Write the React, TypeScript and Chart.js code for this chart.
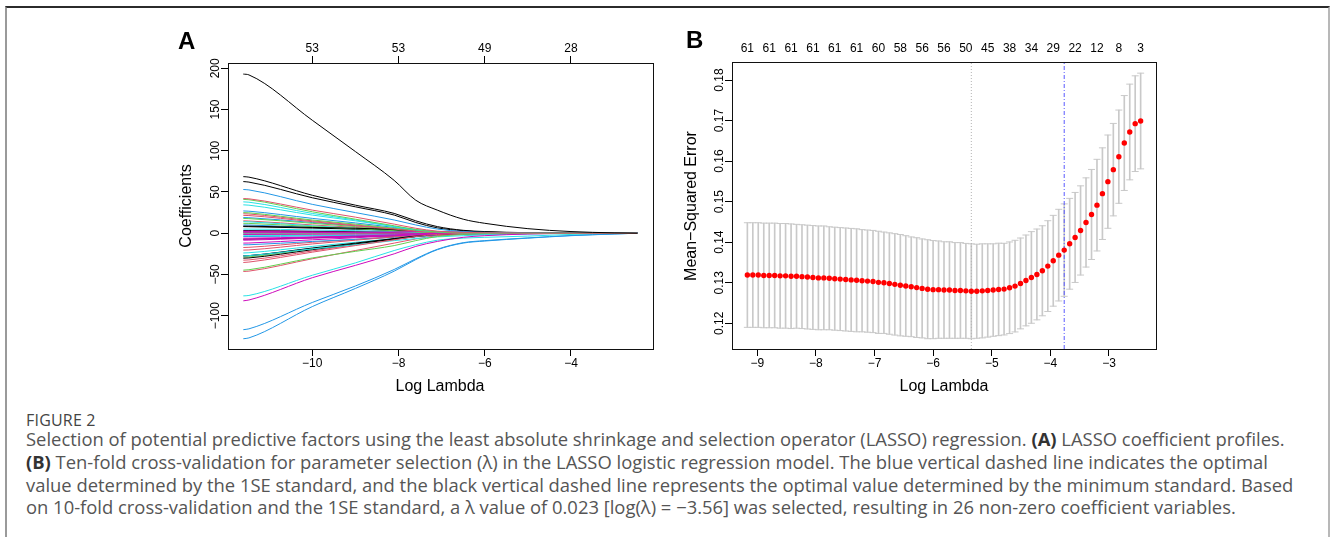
import React, { useEffect, useRef } from 'react';
import { Chart, registerables } from 'chart.js';

Chart.register(...registerables);

// ---------------- Panel A: LASSO coefficient profiles ----------------
const knotsA = [-11.6, -11.47, -10, -9, -8.1, -7.6, -7.1, -6.5, -6, -5, -4, -3, -2.46];

const coefPaths: number[][] = [
  // group 1
  [193, 192, 137, 99, 64, 40, 28, 17, 12, 5.5, 2, 0.4, 0],
  [42, 41.7, 28, 19.5, 11, 6, 2.5, 1, 0.5, 0.1, 0, 0, 0],
  [41, 40.6, 26, 17, 9, 4.5, 1.5, 0.4, 0, 0, 0, 0, 0],
  [53, 52.5, 35, 25, 16, 10, 5, 2, 1, 0.3, 0, 0, 0],
  [38, 37.6, 24, 16, 8, 4, 1.5, 0.5, 0.2, 0, 0, 0, 0],
  [-82, -81, -54, -39, -25, -16, -10, -5, -3, -1, -0.2, 0, 0],
  // group 2
  [68.6, 68, 46, 34, 24, 15, 8, 3.5, 2, 0.6, 0.1, 0, 0],
  [-35.5, -35, -23, -15, -8, -4, -1.5, -0.5, 0, 0, 0, 0, 0],
  [-44.8, -44.3, -30, -22, -15, -9, -4, -1.5, -0.5, 0, 0, 0, 0],
  [-128, -127, -89, -67, -46, -32, -20, -12, -9.5, -6, -3, -1, 0],
  [-76, -75.5, -51, -36, -21, -14, -8.5, -6, -5, -3.5, -1.5, -0.3, 0],
  [-7.3, -7.2, -5, -3.5, -2, -1, -0.3, 0, 0, 0, 0, 0, 0],
  // group 3
  [62.6, 62, 43, 32, 22, 13, 6.5, 3, 1.5, 0.4, 0, 0, 0],
  [21.6, 21.4, 14, 9, 5, 2.5, 1, 0.3, 0, 0, 0, 0, 0],
  [25, 24.7, 16, 11, 6, 3, 1, 0.3, 0, 0, 0, 0, 0],
  [-117, -116, -84, -64, -44, -31, -19.5, -11.5, -9, -5.7, -2.8, -0.9, 0],
  [34.4, 34, 22, 15, 8, 4.5, 2, 0.8, 0.4, 0.1, 0, 0, 0],
  [0.5, 0.5, 0.8, 1, 1.5, 2, 1.8, 1.2, 0.8, 0.3, 0, 0, 0],
  // group 4
  [8.6, 8.5, 7, 6, 4.5, 3, 1.5, 0.5, 0.2, 0, 0, 0, 0],
  [23.6, 23.3, 15, 10, 5.5, 3, 1.2, 0.4, 0, 0, 0, 0, 0],
  [17.9, 17.7, 12, 8, 4.5, 2.5, 1, 0.3, 0, 0, 0, 0, 0],
  [27, 26.7, 18, 12.5, 7, 4, 1.8, 0.6, 0.2, 0, 0, 0, 0],
  [-27.5, -27.2, -19, -14, -9, -6.5, -4.5, -3, -2, -0.8, -0.2, 0, 0],
  [-8.5, -8.4, -6, -4.5, -3, -2, -1.2, -0.6, -0.3, 0, 0, 0, 0],
  // group 5
  [-27.5, -27.2, -18, -12, -6.5, -3.5, -1.5, -0.5, 0, 0, 0, 0, 0],
  [-46.4, -46, -31, -21, -12, -7, -3, -1, -0.3, 0, 0, 0, 0],
  [12, 11.9, 8, 5.5, 3, 1.5, 0.5, 0, 0, 0, 0, 0, 0],
  [19, 18.8, 13, 9, 5, 3, 1.5, 0.5, 0.2, 0, 0, 0, 0],
  [5, 5, 4, 3, 2, 1.2, 0.5, 0.2, 0, 0, 0, 0, 0],
  [-1.5, -1.5, -1.2, -1, -0.8, -0.5, -0.2, 0, 0, 0, 0, 0, 0],
  // group 6
  [8, 7.9, 6.2, 5, 3.5, 2.2, 1.2, 0.5, 0.2, 0, 0, 0, 0],
  [-20.5, -20.3, -13, -8.5, -4.5, -2.5, -1, -0.3, 0, 0, 0, 0, 0],
  [-1.2, -1.2, -0.8, -0.5, -0.3, -0.1, 0, 0, 0, 0, 0, 0, 0],
  [-14.1, -14, -10, -7.5, -5, -3.5, -2.5, -1.5, -1, -0.4, 0, 0, 0],
  [-3, -3, -2.5, -2, -1.5, -1, -0.6, -0.3, 0, 0, 0, 0, 0],
  [2, 2, 1.6, 1.3, 1, 0.8, 0.5, 0.3, 0.1, 0, 0, 0, 0],
  // group 7
  [-30.3, -30, -20, -13, -7, -4, -1.8, -0.6, -0.2, 0, 0, 0, 0],
  [-32.7, -32.4, -21.5, -14, -7.5, -4, -1.8, -0.6, -0.2, 0, 0, 0, 0],
  [0.5, 0.5, 0.3, 0.2, 0.1, 0, 0, 0, 0, 0, 0, 0, 0],
  [-4, -4, -3.2, -2.8, -2.3, -2, -1.6, -1.2, -0.9, -0.5, -0.2, 0, 0],
  [14, 13.8, 9, 6, 3.5, 2, 0.8, 0.2, 0, 0, 0, 0, 0],
  [-6, -6, -4.5, -3.5, -2.5, -1.8, -1.2, -0.6, -0.3, 0, 0, 0, 0],
  // group 8
  [2.8, 2.8, 2.2, 1.8, 1.4, 1, 0.6, 0.3, 0.1, 0, 0, 0, 0],
  [15, 14.8, 10, 7, 4, 2.2, 1, 0.4, 0.2, 0, 0, 0, 0],
  [-29, -28.7, -19, -13, -7, -4, -1.5, -0.4, 0, 0, 0, 0, 0],
  [10, 9.9, 7, 5, 3, 2, 1, 0.4, 0.1, 0, 0, 0, 0],
  [-24, -23.7, -16, -11, -6.5, -4, -2, -0.8, -0.3, 0, 0, 0, 0],
  [-12, -11.9, -8, -5.5, -3, -1.8, -0.8, -0.2, 0, 0, 0, 0, 0],
  // group 9
  [-7.3, -7.2, -5.5, -4.3, -3, -2, -1.2, -0.5, -0.2, 0, 0, 0, 0],
  [-17.3, -17.1, -11, -7.5, -4, -2.2, -0.8, -0.2, 0, 0, 0, 0, 0],
  [1, 1, 1.2, 1.5, 2, 2.2, 1.8, 1, 0.5, 0.1, 0, 0, 0],
  [-27.5, -27.2, -18.5, -13, -7.5, -4.5, -2.5, -1, -0.4, 0, 0, 0, 0],
  [0, 0, 0, 0.3, 0.5, 0.6, 0.5, 0.3, 0.1, 0, 0, 0, 0],
  [3, 3, 2.5, 2.3, 2, 1.8, 1.6, 1.3, 1, 0.5, 0.2, 0, 0],
];

const xTicksA = [-10, -8, -6, -4];
const topLabelsA = ['53', '53', '49', '28'];
const yTicksA = [-100, -50, 0, 50, 100, 150, 200];

// ---------------- Panel B: cross-validation curve ----------------
const logLambda = [
  -9.170, -9.077, -8.984, -8.890, -8.797, -8.704, -8.611, -8.518, -8.424, -8.331,
  -8.238, -8.145, -8.052, -7.958, -7.865, -7.772, -7.679, -7.586, -7.492, -7.399,
  -7.306, -7.213, -7.120, -7.026, -6.933, -6.840, -6.747, -6.654, -6.560, -6.467,
  -6.374, -6.281, -6.188, -6.094, -6.001, -5.908, -5.815, -5.722, -5.628, -5.535,
  -5.442, -5.349, -5.256, -5.162, -5.069, -4.976, -4.883, -4.790, -4.696, -4.603,
  -4.510, -4.417, -4.324, -4.230, -4.137, -4.044, -3.951, -3.858, -3.764, -3.671,
  -3.578, -3.485, -3.392, -3.298, -3.205, -3.112, -3.019, -2.926, -2.832, -2.739,
  -2.646, -2.553, -2.460,
];

const cvm = [
  0.1319, 0.1319, 0.1319, 0.1318, 0.1318, 0.1318, 0.1317, 0.1317, 0.1316, 0.1316,
  0.1315, 0.1314, 0.1313, 0.1312, 0.1312, 0.1311, 0.1310, 0.1309, 0.1308, 0.1307,
  0.1306, 0.1305, 0.1304, 0.1303, 0.1301, 0.1300, 0.1298, 0.1296, 0.1294, 0.1292,
  0.1290, 0.1288, 0.1286, 0.1284, 0.1283, 0.1283, 0.1282, 0.1282, 0.1281, 0.1281,
  0.1280, 0.1279, 0.1279, 0.1280, 0.1281, 0.1282, 0.12835, 0.12843, 0.12876, 0.12917,
  0.12983, 0.13057, 0.13131, 0.13205, 0.13295, 0.1341, 0.13542, 0.13681, 0.13805, 0.13961,
  0.14117, 0.1429, 0.14487, 0.14684, 0.14914, 0.15197, 0.15493, 0.15789, 0.16109, 0.16446,
  0.16718, 0.16923, 0.16989,
];

const cvsd = [
  0.0129, 0.0129, 0.0129, 0.0129, 0.0129, 0.0129, 0.0129, 0.0129, 0.0129, 0.0128,
  0.0128, 0.0128, 0.0128, 0.0128, 0.0128, 0.0127, 0.0127, 0.0127, 0.0127, 0.0127,
  0.0127, 0.0126, 0.0126, 0.0126, 0.0126, 0.0125, 0.0125, 0.0125, 0.0125, 0.0124,
  0.0123, 0.0123, 0.0122, 0.0122, 0.0121, 0.0120, 0.0119, 0.0119, 0.0118, 0.0118,
  0.0117, 0.0117, 0.0116, 0.0116, 0.0115, 0.0114, 0.0114, 0.0113, 0.0113, 0.0113,
  0.0112, 0.0112, 0.0113, 0.0112, 0.0111, 0.0112, 0.0112, 0.0113, 0.0114, 0.0112,
  0.0111, 0.0110, 0.0110, 0.0111, 0.0113, 0.0113, 0.0115, 0.0114, 0.0115, 0.0117,
  0.0118, 0.0118, 0.0118,
];

const nzLabelsB = ['61', '61', '61', '61', '61', '61', '60', '58', '56', '56', '50', '45', '38', '34', '29', '22', '12', '8', '3'];
const nzStep = 4;
const xTicksB = [-9, -8, -7, -6, -5, -4, -3];
const yTicksB = [0.12, 0.13, 0.14, 0.15, 0.16, 0.17, 0.18];
const logLambdaMin = -5.349;
const logLambda1se = -3.764;

// ---------------- styling ----------------
const palette = ['#000000', '#DF536B', '#61D04F', '#2297E6', '#28E2E5', '#CD0BBC'];
const FONT = '"Liberation Sans", Arial, Helvetica, sans-serif';
const tickFont = { family: FONT, size: 12 };

const minus = (v: number) => (v < 0 ? '\u2212' + Math.abs(v) : String(v));

Chart.defaults.font.family = FONT;
Chart.defaults.color = '#000';

function framePlugin(yVals: number[], fmt: (v: number) => string) {
  return {
    id: 'rframe',
    afterDraw(chart: any) {
      const { ctx, chartArea: a, scales } = chart;
      ctx.save();
      ctx.strokeStyle = '#111';
      ctx.lineWidth = 1;
      ctx.strokeRect(a.left + 0.5, a.top + 0.5, a.right - a.left, a.bottom - a.top);
      ctx.fillStyle = '#000';
      ctx.font = '12px ' + FONT;
      ctx.textAlign = 'center';
      ctx.textBaseline = 'alphabetic';
      for (const v of yVals) {
        const y = scales.y.getPixelForValue(v);
        ctx.save();
        ctx.translate(a.left - 8.7, y);
        ctx.rotate(-Math.PI / 2);
        ctx.fillText(fmt(v), 0, 0);
        ctx.restore();
      }
      ctx.restore();
    },
  };
}

const tickGrid = { drawOnChartArea: false, drawTicks: true, tickLength: 7, color: '#000', tickColor: '#000', lineWidth: 1, offset: false };

function configA(): any {
  const xMin = -11.955, xMax = -2.098;
  return {
    type: 'line',
    data: {
      datasets: coefPaths.map((vals, k) => ({
        data: knotsA.map((x, i) => ({ x, y: vals[i] })),
        borderColor: palette[k % palette.length],
        borderWidth: 1,
        pointRadius: 0,
        fill: false,
        cubicInterpolationMode: 'monotone',
        xAxisID: 'x',
        yAxisID: 'y',
      })),
    },
    options: {
      responsive: false,
      animation: false,
      events: [],
      layout: { padding: { left: 0, right: 17, top: 0, bottom: 0 } },
      plugins: { legend: { display: false }, tooltip: { enabled: false } },
      scales: {
        x: {
          type: 'linear', position: 'bottom', min: xMin, max: xMax,
          afterBuildTicks: (s: any) => { s.ticks = xTicksA.map((value) => ({ value })); },
          afterFit: (s: any) => { s.height = 51; },
          ticks: { callback: (v: number) => minus(v), autoSkip: false, maxRotation: 0, minRotation: 0, padding: 0, color: '#000', font: tickFont },
          grid: tickGrid,
          border: { display: false },
        },
        xTop: {
          type: 'linear', axis: 'x', position: 'top', min: xMin, max: xMax,
          afterBuildTicks: (s: any) => { s.ticks = xTicksA.map((value) => ({ value })); },
          afterFit: (s: any) => { s.height = 43; },
          ticks: { callback: (_v: number, i: number) => topLabelsA[i], autoSkip: false, maxRotation: 0, minRotation: 0, padding: 0, color: '#000', font: tickFont },
          grid: tickGrid,
          border: { display: false },
        },
        y: {
          type: 'linear', position: 'left', min: -140.44, max: 206.43,
          afterBuildTicks: (s: any) => { s.ticks = yTicksA.map((value) => ({ value })); },
          afterFit: (s: any) => { s.width = 78; },
          ticks: { display: false },
          grid: tickGrid,
          border: { display: false },
        },
      },
    },
    plugins: [framePlugin(yTicksA, minus)],
  };
}

function configB(): any {
  const xMin = -9.432, xMax = -2.198;
  const yMin = 0.11366, yMax = 0.18444;
  const bars = logLambda.map((x, i) => ({ x, y: [cvm[i] - cvsd[i], cvm[i] + cvsd[i]] }));
  const caps = [
    ...logLambda.map((x, i) => ({ x, y: cvm[i] + cvsd[i] })),
    ...logLambda.map((x, i) => ({ x, y: cvm[i] - cvsd[i] })),
  ];
  const pts = logLambda.map((x, i) => ({ x, y: cvm[i] }));
  const topPos = logLambda.filter((_, i) => i % nzStep === 0);
  const barGrey = '#c9c9c9';
  return {
    type: 'scatter',
    data: {
      datasets: [
        { type: 'scatter', order: 0, data: pts, pointRadius: 2.7, pointBackgroundColor: '#ff0000', pointBorderWidth: 0, borderWidth: 0, xAxisID: 'x', yAxisID: 'y' },
        { type: 'line', order: 1, data: [{ x: logLambda1se, y: yMin }, { x: logLambda1se, y: yMax }], borderColor: '#5a5aff', borderWidth: 1, borderDash: [4, 2, 1, 2], pointRadius: 0, xAxisID: 'x', yAxisID: 'y' },
        { type: 'line', order: 1, data: [{ x: logLambdaMin, y: yMin }, { x: logLambdaMin, y: yMax }], borderColor: '#b4b4b4', borderWidth: 1, borderDash: [1, 2], pointRadius: 0, xAxisID: 'x', yAxisID: 'y' },
        { type: 'scatter', order: 2, data: caps, pointStyle: 'line', pointRadius: 3.5, pointBorderColor: barGrey, pointBorderWidth: 1, borderColor: barGrey, xAxisID: 'x', yAxisID: 'y' },
        { type: 'bar', order: 3, data: bars, barThickness: 1, backgroundColor: barGrey, borderWidth: 0, grouped: false, xAxisID: 'x', yAxisID: 'y' },
      ],
    },
    options: {
      responsive: false,
      animation: false,
      events: [],
      layout: { padding: { left: 0, right: 24, top: 0, bottom: 0 } },
      plugins: { legend: { display: false }, tooltip: { enabled: false } },
      scales: {
        x: {
          type: 'linear', position: 'bottom', min: xMin, max: xMax, offset: false,
          afterBuildTicks: (s: any) => { s.ticks = xTicksB.map((value) => ({ value })); },
          afterFit: (s: any) => { s.height = 51; },
          ticks: { callback: (v: number) => minus(v), autoSkip: false, maxRotation: 0, minRotation: 0, padding: 0, color: '#000', font: tickFont },
          grid: tickGrid,
          border: { display: false },
        },
        xTop: {
          type: 'linear', axis: 'x', position: 'top', min: xMin, max: xMax, offset: false,
          afterBuildTicks: (s: any) => { s.ticks = topPos.map((value) => ({ value })); },
          afterFit: (s: any) => { s.height = 42; },
          ticks: { callback: (_v: number, i: number) => nzLabelsB[i], autoSkip: false, maxRotation: 0, minRotation: 0, padding: 6, color: '#000', font: tickFont },
          grid: { display: false, drawTicks: false, drawOnChartArea: false, offset: false },
          border: { display: false },
        },
        y: {
          type: 'linear', position: 'left', min: yMin, max: yMax,
          afterBuildTicks: (s: any) => { s.ticks = yTicksB.map((value) => ({ value })); },
          afterFit: (s: any) => { s.width = 72; },
          ticks: { display: false },
          grid: tickGrid,
          border: { display: false },
        },
      },
    },
    plugins: [framePlugin(yTicksB, (v) => v.toFixed(2))],
  };
}

const abs = (o: React.CSSProperties): React.CSSProperties => ({ position: 'absolute', ...o });

const captionFont = '"Open Sans", Lato, "Noto Sans", sans-serif';
const capLine: React.CSSProperties = {
  position: 'absolute', left: 26, whiteSpace: 'nowrap', fontFamily: captionFont,
  fontSize: 18.4, lineHeight: '22.7px', color: '#555',
};

export default function App() {
  const refA = useRef<HTMLCanvasElement>(null);
  const refB = useRef<HTMLCanvasElement>(null);

  useEffect(() => {
    const a = new Chart(refA.current as HTMLCanvasElement, configA());
    const b = new Chart(refB.current as HTMLCanvasElement, configB());
    return () => { a.destroy(); b.destroy(); };
  }, []);

  const title: React.CSSProperties = { fontFamily: FONT, fontSize: 16, lineHeight: '16px', color: '#000', whiteSpace: 'nowrap', textAlign: 'center' };

  return (
    <div style={abs({ left: 0, top: 0, width: 1330, height: 537, overflow: 'hidden', background: '#fff' })}>
      <div style={abs({ left: 5, top: 6, width: 1325, height: 600, boxSizing: 'border-box', borderTop: '2px solid #2b2b2b', borderLeft: '2px solid #9a9a9a', borderRight: '2px solid #b8b8b8' })} />

      <canvas ref={refA} width={520} height={380} style={abs({ left: 150, top: 20, width: 520, height: 380 })} />
      <canvas ref={refB} width={520} height={380} style={abs({ left: 660, top: 20, width: 520, height: 380 })} />

      <div style={abs({ left: 178, top: 28.7, fontFamily: FONT, fontWeight: 'bold', fontSize: 24, lineHeight: '24px' })}>A</div>
      <div style={abs({ left: 686, top: 28.2, fontFamily: FONT, fontWeight: 'bold', fontSize: 24, lineHeight: '24px' })}>B</div>

      <div style={abs({ ...title, left: 340, top: 378, width: 200 })}>Log Lambda</div>
      <div style={abs({ ...title, left: 844, top: 378, width: 200 })}>Log Lambda</div>
      <div style={abs({ ...title, left: 186.2 - 100, top: 206 - 8, width: 200, height: 16, transform: 'rotate(-90deg)' })}>Coefficients</div>
      <div style={abs({ ...title, left: 690.5 - 120, top: 205.5 - 8, width: 240, height: 16, transform: 'rotate(-90deg)' })}>Mean{'\u2212'}Squared Error</div>

      <div style={abs({ left: 26, top: 411, fontFamily: captionFont, fontSize: 16, lineHeight: '18px', color: '#444', letterSpacing: 0.2 })}>FIGURE 2</div>
      <div style={{ ...capLine, top: 441 - 12.6 }}>
        Selection of potential predictive factors using the least absolute shrinkage and selection operator (LASSO) regression. <b style={{ color: '#333' }}>(A)</b> LASSO coefficient profiles.
      </div>
      <div style={{ ...capLine, top: 464 - 12.6 }}>
        <b style={{ color: '#333' }}>(B)</b> Ten-fold cross-validation for parameter selection (λ) in the LASSO logistic regression model. The blue vertical dashed line indicates the optimal
      </div>
      <div style={{ ...capLine, top: 487 - 12.6 }}>
        value determined by the 1SE standard, and the black vertical dashed line represents the optimal value determined by the minimum standard. Based
      </div>
      <div style={{ ...capLine, top: 509 - 12.6 }}>
        on 10-fold cross-validation and the 1SE standard, a λ value of 0.023 [log(λ) = {'\u2212'}3.56] was selected, resulting in 26 non-zero coefficient variables.
      </div>
    </div>
  );
}
